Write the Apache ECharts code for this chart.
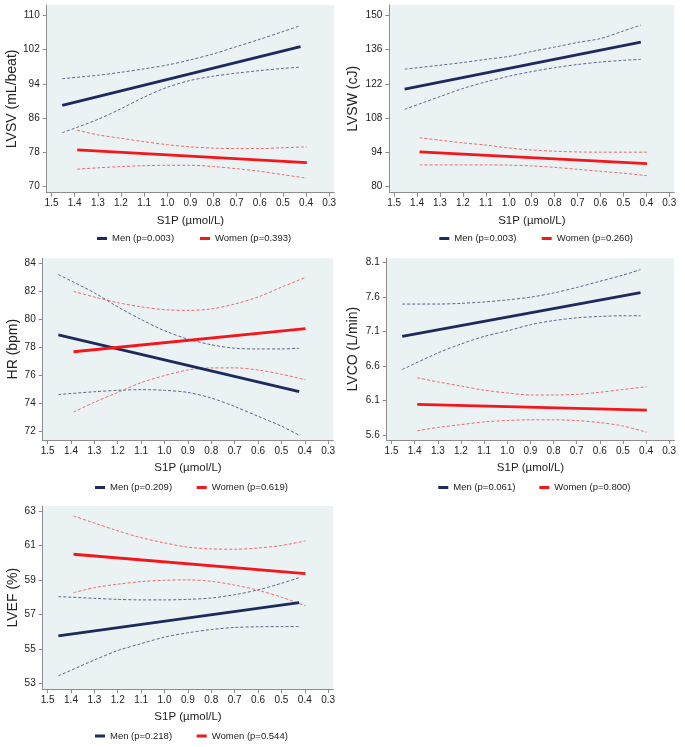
<!doctype html>
<html>
<head>
<meta charset="utf-8">
<title>S1P and LV function</title>
<script src="https://cdn.jsdelivr.net/npm/echarts@6/dist/echarts.min.js"></script>
<style>
  html, body { margin: 0; padding: 0; background: #fff; }
  #chart { width: 685px; height: 747px; }
</style>
</head>
<body>
<div id="chart"></div>
<script>
// x axis (reversed, 1.5 on the left)
var s1pTicks = [1.5, 1.4, 1.3, 1.2, 1.1, 1.0, 0.9, 0.8, 0.7, 0.6, 0.5, 0.4, 0.3];
// points where the confidence bands were read
var menX   = [1.454, 1.3, 1.2, 1.1, 1.0, 0.9, 0.8, 0.7, 0.6, 0.5, 0.424];
var womenX = [1.389, 1.3, 1.2, 1.1, 1.0, 0.9, 0.8, 0.7, 0.6, 0.5, 0.397];

// LVSV
var lvsvTicks = [70, 78, 86, 94, 102, 110];
var lvsvMenFit = [89.0, 102.7];
var lvsvMenHi = [95.2, 96.0, 96.7, 97.5, 98.4, 99.6, 101.0, 102.7, 104.4, 106.2, 107.6];
var lvsvMenLo = [82.6, 85.7, 88.2, 90.9, 93.2, 94.8, 95.8, 96.5, 97.1, 97.6, 97.9];
var lvsvWomenFit = [78.6, 75.6];
var lvsvWomenHi = [83.2, 82.1, 81.3, 80.5, 79.8, 79.3, 79.0, 78.9, 78.9, 79.1, 79.3];
var lvsvWomenLo = [74.1, 74.4, 74.7, 74.9, 75.0, 75.0, 74.7, 74.2, 73.6, 72.8, 72.0];
var lvsvLegend = ['Men (p=0.003)', 'Women (p=0.393)'];

// LVSW
var lvswTicks = [80, 94, 108, 122, 136, 150];
var lvswMenFit = [119.8, 139.0];
var lvswMenHi = [128.0, 129.6, 130.7, 132.0, 133.2, 135.2, 137.0, 138.9, 140.5, 143.6, 146.0];
var lvswMenLo = [111.6, 116.8, 120.1, 122.8, 125.1, 127.0, 128.6, 129.9, 130.9, 131.6, 132.0];
var lvswWomenFit = [94.2, 89.4];
var lvswWomenHi = [100.0, 99.0, 97.9, 97.0, 95.8, 95.0, 94.5, 94.2, 94.1, 94.1, 94.1];
var lvswWomenLo = [88.9, 88.9, 88.9, 88.9, 88.8, 88.5, 87.9, 87.1, 86.3, 85.5, 84.5];
var lvswLegend = ['Men (p=0.003)', 'Women (p=0.260)'];

// HR
var hrTicks = [72, 74, 76, 78, 80, 82, 84];
var hrMenFit = [78.9, 74.85];
var hrMenHi = [83.2, 81.9, 80.9, 80.0, 79.2, 78.6, 78.2, 77.95, 77.9, 77.9, 77.95];
var hrMenLo = [74.65, 74.85, 74.95, 75.0, 74.95, 74.8, 74.4, 73.8, 73.1, 72.4, 71.75];
var hrWomenFit = [77.7, 79.35];
var hrWomenHi = [82.0, 81.6, 81.2, 80.9, 80.7, 80.65, 80.75, 81.1, 81.6, 82.3, 83.0];
var hrWomenLo = [73.4, 74.1, 74.8, 75.5, 76.0, 76.4, 76.55, 76.55, 76.4, 76.1, 75.7];
var hrLegend = ['Men (p=0.209)', 'Women (p=0.619)'];

// LVCO
var lvcoTicks = [5.6, 6.1, 6.6, 7.1, 7.6, 8.1];
var lvcoMenFit = [7.03, 7.665];
var lvcoMenHi = [7.50, 7.50, 7.51, 7.53, 7.56, 7.60, 7.66, 7.74, 7.83, 7.92, 8.00];
var lvcoMenLo = [6.55, 6.79, 6.92, 7.03, 7.11, 7.20, 7.26, 7.30, 7.32, 7.33, 7.33];
var lvcoWomenFit = [6.045, 5.962];
var lvcoWomenHi = [6.43, 6.37, 6.31, 6.25, 6.21, 6.18, 6.18, 6.19, 6.22, 6.26, 6.30];
var lvcoWomenLo = [5.66, 5.71, 5.75, 5.79, 5.81, 5.82, 5.82, 5.81, 5.78, 5.73, 5.64];
var lvcoLegend = ['Men (p=0.061)', 'Women (p=0.800)'];

// LVEF
var lvefTicks = [53, 55, 57, 59, 61, 63];
var lvefMenFit = [55.75, 57.68];
var lvefMenHi = [58.03, 57.93, 57.87, 57.84, 57.84, 57.87, 57.95, 58.14, 58.42, 58.80, 59.13];
var lvefMenLo = [53.43, 54.35, 54.90, 55.30, 55.68, 55.93, 56.12, 56.24, 56.28, 56.29, 56.29];
var lvefWomenFit = [60.49, 59.36];
var lvefWomenHi = [62.71, 62.30, 61.85, 61.45, 61.15, 60.90, 60.80, 60.78, 60.85, 61.00, 61.26];
var lvefWomenLo = [58.26, 58.55, 58.75, 58.90, 58.98, 59.00, 58.92, 58.70, 58.40, 58.00, 57.49];
var lvefLegend = ['Men (p=0.218)', 'Women (p=0.544)'];

var panels = [
  { name: 'LVSV (mL/beat)', ticks: lvsvTicks, dec: 0, men: lvsvMenFit, menHi: lvsvMenHi, menLo: lvsvMenLo,
    women: lvsvWomenFit, womenHi: lvsvWomenHi, womenLo: lvsvWomenLo, legend: lvsvLegend },
  { name: 'LVSW (cJ)', ticks: lvswTicks, dec: 0, men: lvswMenFit, menHi: lvswMenHi, menLo: lvswMenLo,
    women: lvswWomenFit, womenHi: lvswWomenHi, womenLo: lvswWomenLo, legend: lvswLegend },
  { name: 'HR (bpm)', ticks: hrTicks, dec: 0, men: hrMenFit, menHi: hrMenHi, menLo: hrMenLo,
    women: hrWomenFit, womenHi: hrWomenHi, womenLo: hrWomenLo, legend: hrLegend },
  { name: 'LVCO (L/min)', ticks: lvcoTicks, dec: 1, men: lvcoMenFit, menHi: lvcoMenHi, menLo: lvcoMenLo,
    women: lvcoWomenFit, womenHi: lvcoWomenHi, womenLo: lvcoWomenLo, legend: lvcoLegend },
  { name: 'LVEF (%)', ticks: lvefTicks, dec: 0, men: lvefMenFit, menHi: lvefMenHi, menLo: lvefMenLo,
    women: lvefWomenFit, womenHi: lvefWomenHi, womenLo: lvefWomenLo, legend: lvefLegend }
];

// plot regions (px) and axis extents incl. the inner margin of each plot region
var layout = [
  { left: 46.7,  top: 5,     width: 287.6, height: 187.7, yMin: 68.6,  yMax: 112.4, gap: 27,   legTop: 233.5, menLeft: 97,    womenLeft: 200 },
  { left: 389.3, top: 5,     width: 285,   height: 187.7, yMin: 77.55, yMax: 154.2, gap: 29.6, legTop: 233.5, menLeft: 439.3, womenLeft: 541.7 },
  { left: 42.7,  top: 258.3, width: 290.6, height: 181.7, yMin: 71.41, yMax: 84.36, gap: 23,   legTop: 482.5, menLeft: 95,    womenLeft: 196.7 },
  { left: 386.7, top: 258.3, width: 287.6, height: 181.7, yMin: 5.527, yMax: 8.164, gap: 27,   legTop: 482.5, menLeft: 438.3, womenLeft: 539.3 },
  { left: 42.7,  top: 506,   width: 290.6, height: 183.3, yMin: 52.65, yMax: 63.29, gap: 23,   legTop: 731,   menLeft: 95,    womenLeft: 196.7 }
];

var MEN = '#1c2a5c', WOMEN = '#f5151b', MEN_CI = '#5d6690', WOMEN_CI = '#f06a6a';
var FONT = 'Liberation Sans, Arial, sans-serif';

function pts(xs, ys) { return xs.map(function (x, i) { return [x, ys[i]]; }); }
function ends(xs, ys) { return [[xs[0], ys[0]], [xs[xs.length - 1], ys[1]]]; }

var grid = [], xAxis = [], yAxis = [], series = [], legend = [];

panels.forEach(function (p, i) {
  var L = layout[i];
  grid.push({ left: L.left, top: L.top, width: L.width, height: L.height,
    show: true, backgroundColor: '#eaf2f3', borderWidth: 0 });

  xAxis.push({
    type: 'value', gridIndex: i, inverse: true, min: 0.278, max: 1.521,
    name: 'S1P (µmol/L)', nameLocation: 'middle', nameGap: 22,
    nameTextStyle: { fontSize: 11.5, color: '#222', fontFamily: FONT },
    axisLine: { show: true, onZero: false, lineStyle: { color: '#8c8c8c', width: 1 } },
    axisTick: { show: true, length: 4, lineStyle: { color: '#8c8c8c' }, customValues: s1pTicks },
    axisLabel: { fontSize: 10, color: '#222', margin: 6, fontFamily: FONT, customValues: s1pTicks,
      formatter: function (v) { return v.toFixed(1); } },
    splitLine: { show: false }
  });

  yAxis.push({
    type: 'value', gridIndex: i, min: L.yMin, max: L.yMax,
    name: p.name, nameLocation: 'middle', nameGap: L.gap,
    nameTextStyle: { fontSize: 14, color: '#222', fontFamily: FONT },
    axisLine: { show: true, onZero: false, lineStyle: { color: '#8c8c8c', width: 1 } },
    axisTick: { show: true, length: 4, lineStyle: { color: '#8c8c8c' }, customValues: p.ticks },
    axisLabel: { fontSize: 10, color: '#222', margin: 7, fontFamily: FONT, customValues: p.ticks,
      formatter: function (v) { return v.toFixed(p.dec); } },
    splitLine: { show: false }
  });

  var ci = function (nm, data, color) {
    return { name: nm, type: 'line', xAxisIndex: i, yAxisIndex: i, data: data,
      showSymbol: false, symbol: 'none', smooth: 0.3, silent: true,
      lineStyle: { color: color, width: 1, type: [3, 2] } };
  };
  var fit = function (nm, data, color) {
    return { name: nm, type: 'line', xAxisIndex: i, yAxisIndex: i, data: data,
      showSymbol: false, symbol: 'none', silent: true,
      itemStyle: { color: color }, lineStyle: { color: color, width: 2.8 } };
  };

  series.push(ci('men hi ' + i, pts(menX, p.menHi), MEN_CI));
  series.push(ci('men lo ' + i, pts(menX, p.menLo), MEN_CI));
  series.push(ci('women hi ' + i, pts(womenX, p.womenHi), WOMEN_CI));
  series.push(ci('women lo ' + i, pts(womenX, p.womenLo), WOMEN_CI));
  series.push(fit(p.legend[0], ends(menX, p.men), MEN));
  series.push(fit(p.legend[1], ends(womenX, p.women), WOMEN));

  [[p.legend[0], L.menLeft], [p.legend[1], L.womenLeft]].forEach(function (it) {
    legend.push({ data: [it[0]], left: it[1], top: L.legTop, padding: 0,
      icon: 'rect', itemWidth: 10, itemHeight: 3, selectedMode: false,
      textStyle: { fontSize: 9.5, color: '#222', fontFamily: FONT } });
  });
});

var chart = echarts.init(document.getElementById('chart'), null, { renderer: 'canvas' });
chart.setOption({
  animation: false,
  textStyle: { fontFamily: FONT },
  grid: grid, xAxis: xAxis, yAxis: yAxis, series: series, legend: legend
});
</script>
</body>
</html>
